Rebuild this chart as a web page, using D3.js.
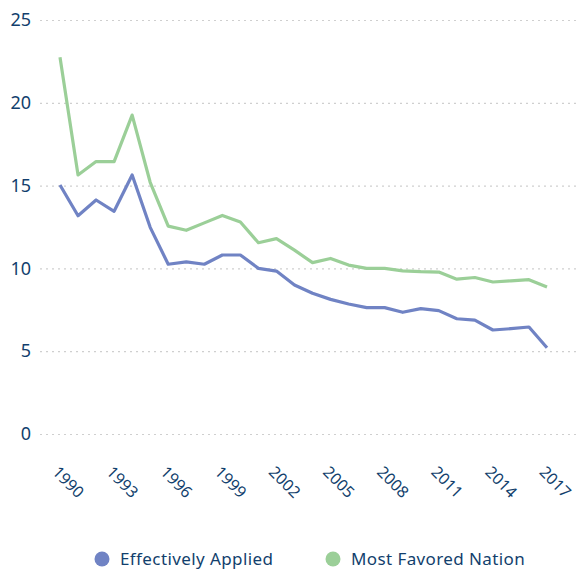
<!DOCTYPE html>
<html>
<head>
<meta charset="utf-8">
<script src="https://cdn.jsdelivr.net/npm/d3@7"></script>
<style>
  body { margin: 0; background: #fff; }
  svg text { font-family: "Noto Sans", "Open Sans", sans-serif; fill: #123f6d; }
</style>
</head>
<body>
<div id="chart"></div>
<script>
const WIDTH = 576;
const HEIGHT = 569;

const LINE_WIDTH = 3.2;
const APPLIED_COLOR = "#7083c4";
const MFN_COLOR = "#9bcf98";
const GRID_COLOR = "#cfcfcf";

// data
const years = d3.range(1990, 2018);
const effectivelyApplied = [15.04, 13.18, 14.13, 13.45, 15.64, 12.48, 10.25, 10.39, 10.25, 10.81,
    10.81, 10.0, 9.84, 9.0, 8.5, 8.13, 7.85, 7.63, 7.63, 7.35,
    7.57, 7.45, 6.96, 6.88, 6.28, 6.36, 6.46, 5.21];
const mostFavoredNation = [22.75, 15.64, 16.45, 16.45, 19.26, 15.2, 12.55, 12.3, 12.75, 13.2,
    12.8, 11.55, 11.8, 11.1, 10.35, 10.6, 10.2, 10.0, 10.0, 9.85,
    9.8, 9.78, 9.35, 9.45, 9.18, 9.25, 9.32, 8.88];
const yTicks = [0, 5, 10, 15, 20, 25];
const xTicks = [1990, 1993, 1996, 1999, 2002, 2005, 2008, 2011, 2014, 2017];
const seriesNames = ["Effectively Applied", "Most Favored Nation"];

var svg = d3.select("#chart")
    .append("svg")
    .attr("width", WIDTH)
    .attr("height", HEIGHT);

var xScale = d3.scaleLinear().domain([1990, 2017]).range([60, 547]);
var yScale = d3.scaleLinear().domain([0, 25]).range([434, 20]);

// horizontal dotted grid + y labels
var yAxis = svg.append("g")
    .attr("transform", "translate(40,0)")
    .call(d3.axisLeft(yScale).tickValues(yTicks).tickSize(-(WIDTH - 40)).tickPadding(9));
yAxis.select(".domain").remove();
yAxis.selectAll(".tick line")
    .attr("stroke", GRID_COLOR)
    .attr("stroke-width", 1.2)
    .attr("stroke-dasharray", "2,4");
yAxis.selectAll(".tick text")
    .attr("font-size", 18)
    .attr("fill", "#123f6d");

// rotated year labels
var xAxis = svg.append("g")
    .attr("transform", "translate(0,434)")
    .call(d3.axisBottom(xScale).tickValues(xTicks).tickFormat(d3.format("d")).tickSize(0));
xAxis.select(".domain").remove();
xAxis.selectAll(".tick text")
    .attr("font-size", 16)
    .attr("fill", "#123f6d")
    .attr("text-anchor", "start")
    .attr("dy", 0)
    .attr("transform", "translate(-7,37) rotate(45)");

var line = d3.line()
    .x((d, i) => xScale(years[i]))
    .y(d => yScale(d));

svg.append("path")
    .datum(mostFavoredNation)
    .attr("fill", "none")
    .attr("stroke", MFN_COLOR)
    .attr("stroke-width", LINE_WIDTH)
    .attr("stroke-linejoin", "round")
    .attr("d", line);

svg.append("path")
    .datum(effectivelyApplied)
    .attr("fill", "none")
    .attr("stroke", APPLIED_COLOR)
    .attr("stroke-width", LINE_WIDTH)
    .attr("stroke-linejoin", "round")
    .attr("d", line);

// legend
var legendX = [102, 333];
var legendColors = [APPLIED_COLOR, MFN_COLOR];
var legend = svg.selectAll(".legend")
    .data(seriesNames)
    .enter().append("g")
    .attr("class", "legend")
    .attr("transform", (d, i) => "translate(" + legendX[i] + ",559)");
legend.append("circle")
    .attr("r", 7.5)
    .attr("fill", (d, i) => legendColors[i]);
legend.append("text")
    .attr("x", 18)
    .attr("dy", "0.35em")
    .attr("font-size", 17)
    .attr("letter-spacing", 0.4)
    .text(d => d);
</script>
</body>
</html>
